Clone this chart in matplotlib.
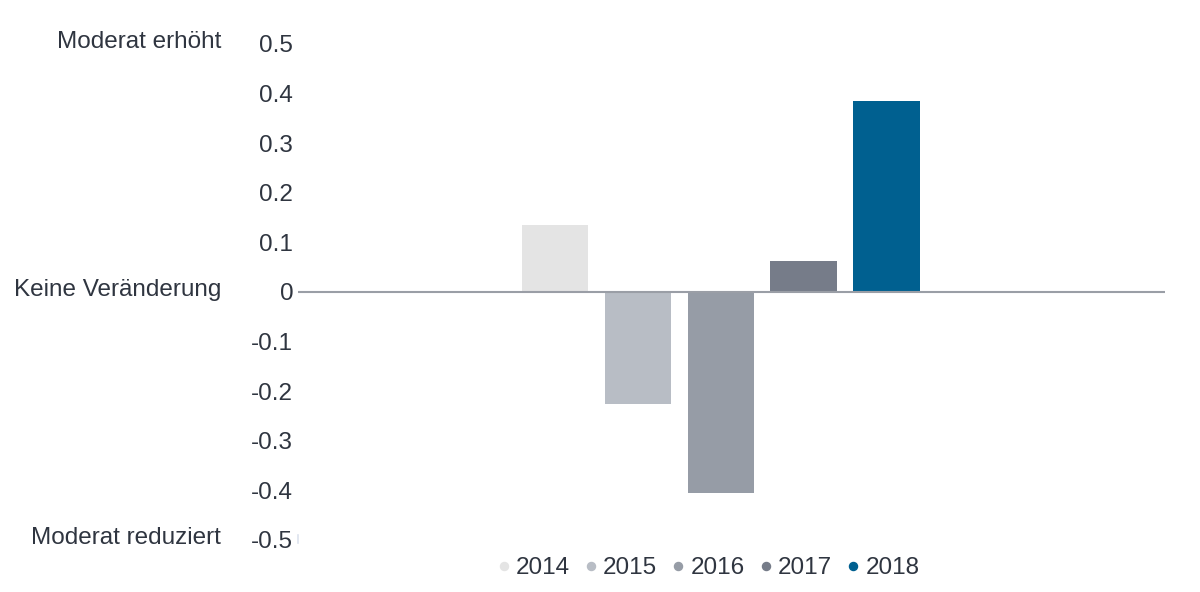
import numpy as np
import matplotlib.pyplot as plt
from matplotlib.lines import Line2D
from matplotlib.transforms import blended_transform_factory

plt.rcParams['font.family'] = ['Liberation Sans', 'DejaVu Sans']

years = ['2014', '2015', '2016', '2017', '2018']
values = [0.135, -0.225, -0.405, 0.062, 0.386]
colors = ['#e4e4e4', '#b8bdc5', '#969ca6', '#767c89', '#006090']

yticks = [0.5, 0.4, 0.3, 0.2, 0.1, 0, -0.1, -0.2, -0.3, -0.4, -0.5]
ytick_labels = ['0.5', '0.4', '0.3', '0.2', '0.1', '0', '-0.1', '-0.2', '-0.3', '-0.4', '-0.5']
side_labels = ['Moderat erhöht', 'Keine Veränderung', 'Moderat reduziert']
side_pos = [0.5, 0, -0.5]

txt = '#2f3540'
fs = 17.5

fig = plt.figure(figsize=(12, 5.92), dpi=100)
ax = fig.add_axes([298/1200, (592-540)/592, (1165-298)/1200, (540-44)/592])

x = np.arange(len(years))
ax.bar(x, values, width=0.8, color=colors, zorder=2)
ax.axhline(0, color='#9a9ea6', lw=1.5, zorder=3)

ax.set_xlim(-3.1, 7.36)
ax.set_ylim(-0.5, 0.5)
ax.set_yticks(yticks)
ax.set_yticklabels(ytick_labels)
ax.tick_params(axis='y', length=0, pad=3.5, labelsize=fs, labelcolor=txt)
ax.set_xticks([])
for s in ax.spines.values():
    s.set_visible(False)
# faint stub of the left axis at the bottom
ax.plot([0, 0], [0.01, -0.006], transform=ax.transAxes, color='#dde3ee',
        lw=1.2, clip_on=False)

tr = blended_transform_factory(fig.transFigure, ax.transData)
for lab, p in zip(side_labels, side_pos):
    ax.text(221/1200, p + 0.005, lab, transform=tr, ha='right', va='center',
            fontsize=fs, color=txt)

handles = [Line2D([], [], marker='o', ls='', color=c, markersize=5.8) for c in colors]
fig.legend(handles, years, loc='center', bbox_to_anchor=(709/1200, 1-568/592),
           ncol=5, frameon=False, fontsize=fs, labelcolor=txt,
           handlelength=0.4, handletextpad=0.3, columnspacing=0.67)

fig.savefig('out.png', dpi=100)
